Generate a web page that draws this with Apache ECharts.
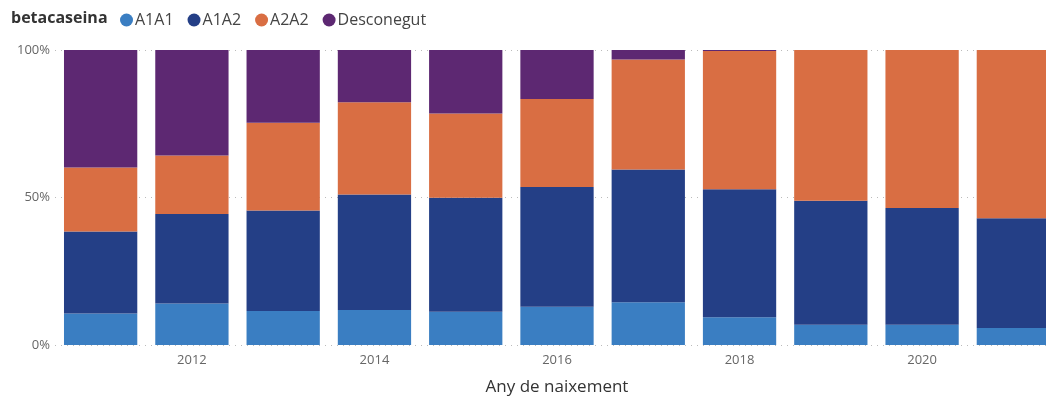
<!DOCTYPE html>
<html lang="ca">
<head>
    <meta charset="UTF-8">
    <title>betacaseina</title>
    <script src="https://cdn.jsdelivr.net/npm/echarts@6/dist/echarts.min.js"></script>
    <style>
        html, body {
            margin: 0;
            padding: 0;
            background: #fff;
        }

        #chart {
            width: 1046px;
            height: 400px;
        }
    </style>
</head>
<body>
<div id="chart"></div>
<script>
    // anys de naixement
    var years = ['2011', '2012', '2013', '2014', '2015', '2016', '2017', '2018', '2019', '2020', '2021'];
    // percentatge de cada genotip per any
    var a1a1 = [10.7, 14.1, 11.5, 11.9, 11.3, 13.0, 14.5, 9.4, 6.9, 6.9, 5.8];
    var a1a2 = [27.8, 30.3, 34.1, 39.1, 38.6, 40.6, 45.0, 43.4, 42.0, 39.5, 37.2];
    var a2a2 = [21.7, 19.8, 29.7, 31.3, 28.6, 29.8, 37.3, 46.9, 51.1, 53.6, 57.0];
    var desconegut = [39.8, 35.8, 24.7, 17.7, 21.5, 16.6, 3.2, 0.3, 0, 0, 0];
    var yTicks = [0, 50, 100];

    var font = '"Open Sans", "Noto Sans", sans-serif';
    var chart = echarts.init(document.getElementById('chart'));

    function serie(name, data, color) {
        return {
            name: name,
            type: 'bar',
            stack: 'total',
            barCategoryGap: '19.7%',
            data: data,
            itemStyle: {color: color},
            emphasis: {disabled: true}
        };
    }

    chart.setOption({
        animation: false,
        title: {
            text: 'betacaseina',
            left: 6,
            top: 5,
            textStyle: {fontFamily: font, fontSize: 16, fontWeight: 'bold', color: '#333'}
        },
        legend: {
            left: 115,
            top: 7,
            icon: 'circle',
            itemWidth: 13,
            itemHeight: 13,
            itemGap: 14,
            textStyle: {fontFamily: font, fontSize: 16, color: '#444', padding: [0, 0, 0, -3]},
            data: ['A1A1', 'A1A2', 'A2A2', 'Desconegut']
        },
        // la graella continua més enllà de la vora dreta, com a l'original
        grid: {left: 55, top: 50, width: 1004, bottom: 55, outerBoundsMode: 'none'},
        xAxis: {
            type: 'category',
            data: years,
            name: 'Any de naixement',
            nameLocation: 'middle',
            nameGap: 34,
            nameTextStyle: {fontFamily: font, fontSize: 17, color: '#333'},
            axisLine: {show: false},
            axisTick: {show: false},
            axisLabel: {
                fontFamily: font,
                fontSize: 13,
                color: '#666',
                margin: 9,
                interval: function (idx) {
                    return idx % 2 === 1;
                }
            }
        },
        yAxis: {
            type: 'value',
            min: yTicks[0],
            max: yTicks[yTicks.length - 1],
            interval: yTicks[1] - yTicks[0],
            axisLabel: {fontFamily: font, fontSize: 13, color: '#666', margin: 5, formatter: '{value}%'},
            splitLine: {lineStyle: {type: [1, 5], color: '#bbb'}}
        },
        series: [
            serie('A1A1', a1a1, '#3a7ec2'),
            serie('A1A2', a1a2, '#243f86'),
            serie('A2A2', a2a2, '#d96e43'),
            serie('Desconegut', desconegut, '#5d2872')
        ]
    });
</script>
</body>
</html>
